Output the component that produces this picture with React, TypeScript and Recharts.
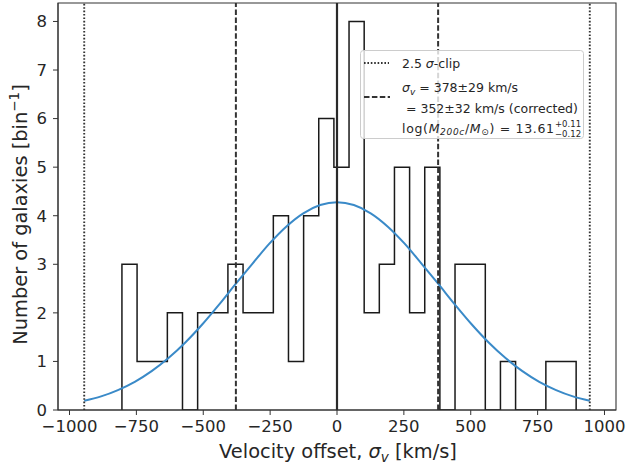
import React from 'react';
import { ComposedChart, Line, XAxis, YAxis, ReferenceLine, ReferenceArea, Legend } from 'recharts';

const binEdges = [
  -804, -747.4, -690.8, -634.2, -577.6, -521.0, -464.4, -407.8, -351.2, -294.6,
  -238.0, -181.4, -124.8, -68.2, -11.6, 45.0, 101.6, 158.2, 214.8, 271.4,
  328.0, 384.6, 441.2, 497.8, 554.4, 611.0, 667.6, 724.2, 780.8, 837.4, 894.0,
];
const binCounts = [3, 1, 1, 2, 0, 2, 2, 3, 2, 2, 4, 1, 4, 6, 5, 8, 2, 3, 5, 2, 5, 0, 3, 3, 0, 1, 0, 0, 1, 1];

const fitVelocity = [
  -945, -882, -819, -756, -693, -630, -567, -504, -441, -378, -315, -252, -189, -126, -63, 0,
  63, 126, 189, 252, 315, 378, 441, 504, 567, 630, 693, 756, 819, 882, 945,
];
const fitCounts = [
  0.19, 0.28, 0.41, 0.58, 0.8, 1.07, 1.39, 1.76, 2.17, 2.6, 3.02, 3.43, 3.78, 4.05, 4.22, 4.28,
  4.22, 4.05, 3.78, 3.43, 3.02, 2.6, 2.17, 1.76, 1.39, 1.07, 0.8, 0.58, 0.41, 0.28, 0.19,
];

const clipVelocities = [-945, 945];
const sigmaVelocities = [-378, 378];
const centerVelocity = 0;

const xTicks = [-1000, -750, -500, -250, 0, 250, 500, 750, 1000];
const yTicks = [0, 1, 2, 3, 4, 5, 6, 7, 8];
const xDomain = [-1043, 1043];
const yDomain = [0, 8.38];

const histData = [
  { x: binEdges[0], y: 0 },
  ...binCounts.map((c, i) => ({ x: binEdges[i], y: c })),
  { x: binEdges[binEdges.length - 1], y: 0 },
];
const fitData = fitVelocity.map((x, i) => ({ x, y: fitCounts[i] }));

const FONT = "'DejaVu Sans', sans-serif";
const TXT = '#262626';

const fmtTick = (v: number) => String(v).replace('-', '\u2212');

const XLabel = (props: any) => {
  const vb = props.viewBox || { x: 58, y: 410, width: 558, height: 58 };
  const cx = vb.x + vb.width / 2;
  return (
    <text x={cx + 1} y={458} textAnchor="middle" fontFamily={FONT} fontSize={19.4} fill={TXT}>
      Velocity offset,{' '}
      <tspan fontStyle="italic">σ</tspan>
      <tspan fontStyle="italic" fontSize={13.5} dy={4}>v</tspan>
      <tspan dy={-4}> [km/s]</tspan>
    </text>
  );
};

const YLabel = () => {
  return (
    <text
      x={26.5}
      y={214.5}
      transform="rotate(-90 26.5 214.5)"
      textAnchor="middle"
      fontFamily={FONT}
      fontSize={19.4}
      fill={TXT}
    >
      Number of galaxies [bin
      <tspan fontSize={13.5} dy={-8}>{'\u22121'}</tspan>
      <tspan dy={8}>]</tspan>
    </text>
  );
};

const LegendBox = () => (
  <svg width={226} height={90} style={{ display: 'block', overflow: 'visible' }}>
    <rect x={0.5} y={0.5} width={223} height={88} rx={3} ry={3} fill="#ffffff" fillOpacity={0.8} stroke="#cccccc" strokeWidth={1} />
    <line x1={4} x2={29} y1={13} y2={13} stroke="#333" strokeWidth={1.8} strokeDasharray="1.6 1.8" />
    <text x={42} y={17.5} fontFamily={FONT} fontSize={12.5} fill={TXT}>
      2.5 <tspan fontStyle="italic">σ</tspan>-clip
    </text>
    <line x1={4} x2={30} y1={47} y2={47} stroke="#333" strokeWidth={1.9} strokeDasharray="5.5 2.4" />
    <text x={42} y={42} fontFamily={FONT} fontSize={12.5} fill={TXT}>
      <tspan fontStyle="italic">σ</tspan>
      <tspan fontStyle="italic" fontSize={9} dy={2.5}>v</tspan>
      <tspan dy={-2.5}> = 378±29 km/s</tspan>
    </text>
    <text x={42} y={62.5} fontFamily={FONT} fontSize={12.5} fill={TXT} xmlSpace="preserve">
      {' '}= 352±32 km/s (corrected)
    </text>
    <text x={42} y={82.5} fontFamily={FONT} fontSize={12.5} fill={TXT} textLength={152} lengthAdjust="spacing">
      log(<tspan fontStyle="italic">M</tspan>
      <tspan fontStyle="italic" fontSize={9} dy={2.5}>200c</tspan>
      <tspan dy={-2.5}>/</tspan>
      <tspan fontStyle="italic">M</tspan>
      <tspan fontSize={9} dy={2.5}>⊙</tspan>
      <tspan dy={-2.5}>) = 13.61</tspan>
    </text>
    <text x={195} y={77} fontFamily={FONT} fontSize={8.5} fill={TXT}>+0.11</text>
    <text x={195} y={86.5} fontFamily={FONT} fontSize={8.5} fill={TXT}>{'\u22120.12'}</text>
  </svg>
);

export default function App() {
  return (
    <div style={{ position: 'absolute', left: 0, top: 0, width: 628, height: 468, background: '#fff' }}>
      <ComposedChart width={628} height={468} margin={{ top: 3, right: 12, bottom: 0, left: 0 }}>
        <XAxis
          dataKey="x"
          type="number"
          domain={xDomain}
          ticks={xTicks}
          allowDataOverflow
          tickFormatter={fmtTick}
          tickSize={5}
          tickMargin={5}
          height={58}
          stroke="#333"
          tick={{ fill: TXT, fontSize: 16.5, fontFamily: FONT }}
          label={<XLabel />}
        />
        <YAxis
          type="number"
          domain={yDomain}
          ticks={yTicks}
          allowDataOverflow
          tickSize={5}
          tickMargin={6}
          width={58}
          stroke="#333"
          tick={{ fill: TXT, fontSize: 16.5, fontFamily: FONT }}
          label={<YLabel />}
        />
        <ReferenceArea
          x1={xDomain[0]}
          x2={xDomain[1]}
          y1={yDomain[0]}
          y2={yDomain[1]}
          fill="none"
          stroke="#333"
          strokeWidth={1.1}
          ifOverflow="visible"
        />
        <Line
          data={histData}
          dataKey="y"
          type="stepAfter"
          stroke="#1a1a1a"
          strokeWidth={1.5}
          dot={false}
          activeDot={false}
          isAnimationActive={false}
          legendType="none"
        />
        <Line
          data={fitData}
          dataKey="y"
          type="monotone"
          stroke="#3a8ac8"
          strokeWidth={2}
          dot={false}
          activeDot={false}
          isAnimationActive={false}
          legendType="none"
        />
        {clipVelocities.map((v) => (
          <ReferenceLine key={'c' + v} x={v} stroke="#333" strokeWidth={1.9} strokeDasharray="1.6 1.8" />
        ))}
        {sigmaVelocities.map((v) => (
          <ReferenceLine key={'s' + v} x={v} stroke="#333" strokeWidth={2} strokeDasharray="5.5 2.4" />
        ))}
        <ReferenceLine x={centerVelocity} stroke="#2a2a2a" strokeWidth={2.2} />
        <Legend
          layout="horizontal"
          verticalAlign="middle"
          align="center"
          content={() => <LegendBox />}
          wrapperStyle={{ position: 'absolute', left: 360, top: 50, width: 226, height: 90 }}
        />
      </ComposedChart>
    </div>
  );
}
